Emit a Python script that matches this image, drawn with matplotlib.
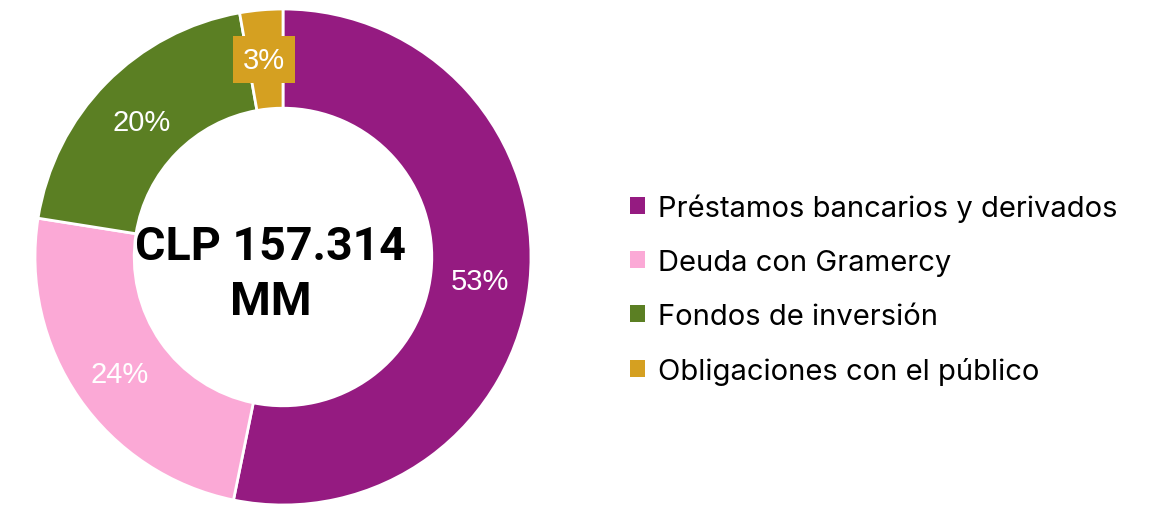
import matplotlib
matplotlib.use("Agg")
import matplotlib.pyplot as plt
import numpy as np

categories = ["Préstamos bancarios y derivados", "Deuda con Gramercy",
              "Fondos de inversión", "Obligaciones con el público"]
values = [53.2, 24.3, 19.7, 2.8]
labels = ["53%", "24%", "20%", "3%"]
colors = ["#951B81", "#FBA9D6", "#5B7F23", "#D5A021"]
center_text = "CLP 157.314\nMM"

W, H = 1155, 506
fig = plt.figure(figsize=(W / 100, H / 100), dpi=100)
cx, cy, R = 283, 248, 248
ax = fig.add_axes([(cx - R) / W, (cy - R) / H, 2 * R / W, 2 * R / H])
ring = 0.40
wedges, _ = ax.pie(values, colors=colors, startangle=90, counterclock=False,
                   radius=1, wedgeprops=dict(width=ring, edgecolor="white", linewidth=2))
ax.set_xlim(-1, 1)
ax.set_ylim(-1, 1)
ax.set_aspect("equal")
ax.axis("off")

rl = 1 - ring / 2
for w, lab in zip(wedges, labels):
    ang = np.deg2rad((w.theta1 + w.theta2) / 2)
    x, y = rl * np.cos(ang), rl * np.sin(ang)
    if lab == "3%":
        y = 0.795
        x = -0.077
        ax.text(x, y, lab, ha="center", va="center", color="white", fontsize=21,
                family="Liberation Sans",
                bbox=dict(boxstyle="square,pad=0.33", fc=colors[3], ec="none"))
    else:
        ax.text(x, y - 0.015, lab, ha="center", va="center", color="white", fontsize=21,
                family="Liberation Sans")

ax.text(-0.05, -0.066, center_text, ha="center", va="center", fontsize=33.5,
        fontweight="bold", family="Roboto", linespacing=1.32, color="black")

leg = fig.legend(wedges, categories, loc="center left",
                 bbox_to_anchor=(604 / W, (506 - 290) / H), frameon=False,
                 prop=dict(family="Inter", size=21),
                 handlelength=0.5, handleheight=0.5, handletextpad=0.45,
                 labelspacing=0.93)
for h in leg.legend_handles:
    h.set_edgecolor("none")

fig.savefig("out.png", dpi=100, facecolor="white")
